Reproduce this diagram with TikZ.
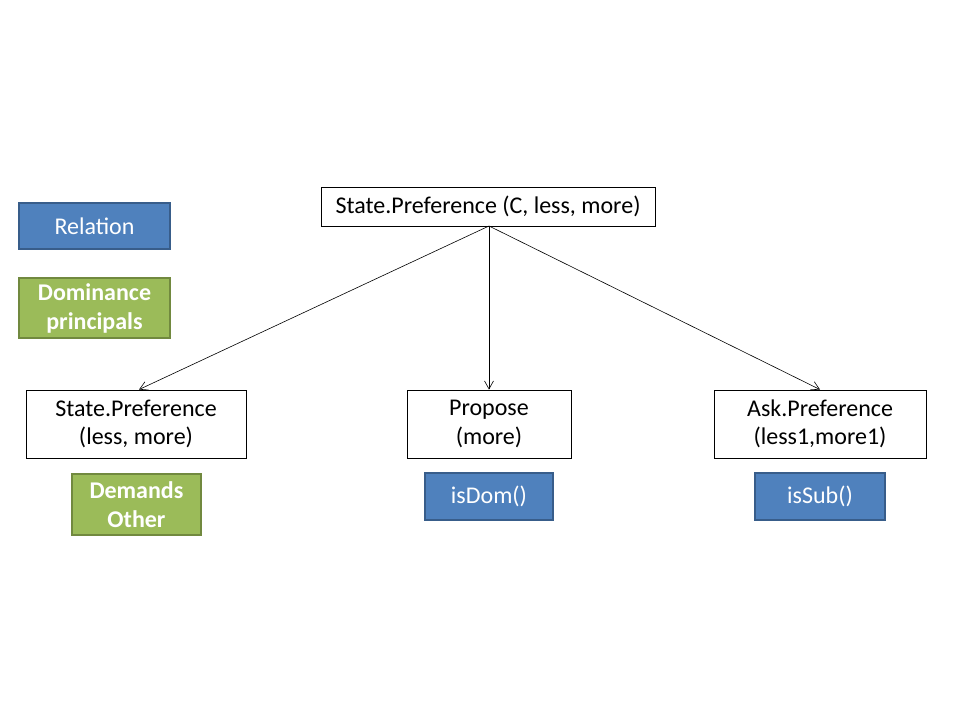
\documentclass[tikz,border=0pt]{standalone}
\usepackage{fontspec}
\setmainfont{Carlito}
\usetikzlibrary{arrows.meta}
\definecolor{relblue}{HTML}{4F81BD}
\definecolor{relbluedark}{HTML}{385D8A}
\definecolor{domgreen}{HTML}{9BBB59}
\definecolor{domgreendark}{HTML}{71893F}
\tikzset{
  plain/.style={draw=black, line width=0.9pt, fill=white, inner sep=0pt, align=center,
    font=\fontsize{24}{28.5}\selectfont},
  bluebox/.style={draw=relbluedark, line width=2pt, fill=relblue, text=white, inner sep=0pt,
    align=center, font=\fontsize{24}{28.5}\selectfont},
  greenbox/.style={draw=domgreendark, line width=2pt, fill=domgreen, text=white, inner sep=0pt,
    align=center, font=\fontsize{24}{29}\selectfont\bfseries},
  conn/.style={draw=black, line width=0.6pt, -{Straight Barb[length=8pt,width=9pt,line width=0.6pt]}}
}
\begin{document}
\begin{tikzpicture}[x=1pt,y=-1pt]
\useasboundingbox (0,0) rectangle (960,720);
\node[plain, minimum width=334pt, minimum height=39pt] (top) at (488,206.5) {State.Preference (C, less, more)};
\node[bluebox, minimum width=151pt, minimum height=46pt] (rel) at (94.5,226) {Relation};
\node[greenbox, minimum width=151pt, minimum height=60pt] (dom) at (94.5,308) {Dominance\\principals};
\node[plain, minimum width=220pt, minimum height=68pt] (sp) at (136,424) {State.Preference\\(less, more)};
\node[greenbox, minimum width=129pt, minimum height=61pt] (dem) at (136.5,504.5) {Demands\\Other};
\node[plain, minimum width=164pt, minimum height=68pt] (pr) at (489,424) {Propose\\(more)};
\node[bluebox, minimum width=128pt, minimum height=47pt] (isdom) at (489,496.5) {isDom()};
\node[plain, minimum width=212pt, minimum height=68pt] (ask) at (820,424) {Ask.Preference\\(less1,more1)};
\node[bluebox, minimum width=130pt, minimum height=47pt] (issub) at (820,496.5) {isSub()};
\coordinate (src) at (489,226);
\draw[conn] (src) -- (sp.north -| 139,0);
\draw[conn] (src) -- (pr.north);
\draw[conn] (src) -- (ask.north);
\end{tikzpicture}
\end{document}
